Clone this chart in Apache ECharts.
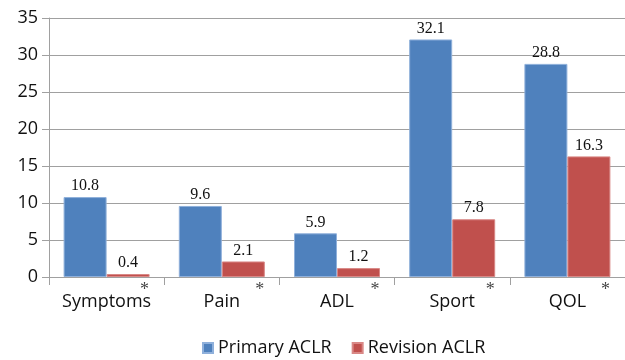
<!DOCTYPE html>
<html>
<head>
<meta charset="utf-8">
<style>
  html, body { margin: 0; padding: 0; background: #fff; }
  #chart { width: 625px; height: 360px; }
</style>
<script src="https://cdn.jsdelivr.net/npm/echarts@6/dist/echarts.min.js"></script>
</head>
<body>
<div id="chart"></div>
<script>
// KOOS subscale differences by group
const categories = ['Symptoms', 'Pain', 'ADL', 'Sport', 'QOL'];
const primaryACLR = [10.8, 9.6, 5.9, 32.1, 28.8];
const revisionACLR = [0.4, 2.1, 1.2, 7.8, 16.3];
// categories flagged as significant (asterisk under the group)
const significant = ['Symptoms', 'Pain', 'ADL', 'Sport', 'QOL'];
const yTicks = { min: 0, max: 35, interval: 5 };

const sansFont = '"Open Sans", "Noto Sans", sans-serif';
const serifFont = '"Liberation Serif", "DejaVu Serif", serif';
const gridGray = '#a0a0a0';

const chart = echarts.init(document.getElementById('chart'));

const valueLabel = {
  show: true,
  position: 'top',
  distance: 3,
  fontFamily: serifFont,
  fontSize: 16,
  color: '#111'
};

chart.setOption({
  animation: false,
  grid: { left: 49, right: 0, top: 18, bottom: 83 },
  legend: {
    data: ['Primary ACLR', 'Revision ACLR'],
    left: 197,
    top: 334,
    icon: 'rect',
    itemWidth: 10,
    itemHeight: 10,
    itemGap: 20,
    textStyle: { fontFamily: sansFont, fontSize: 18, color: '#111' }
  },
  xAxis: {
    type: 'category',
    data: categories,
    axisLine: { lineStyle: { color: gridGray, width: 1 } },
    axisTick: { show: true, length: 8, lineStyle: { color: gridGray } },
    axisLabel: { interval: 0, margin: 16, fontFamily: sansFont, fontSize: 18, color: '#111' }
  },
  yAxis: {
    type: 'value',
    min: yTicks.min,
    max: yTicks.max,
    interval: yTicks.interval,
    axisLine: { show: true, lineStyle: { color: gridGray, width: 1 } },
    axisTick: { show: true, length: 7, lineStyle: { color: gridGray } },
    axisLabel: { margin: 11, fontFamily: sansFont, fontSize: 18, color: '#111' },
    splitLine: { lineStyle: { color: gridGray, width: 1 } }
  },
  series: [
    {
      name: 'Primary ACLR',
      type: 'bar',
      data: primaryACLR,
      barWidth: 43,
      barGap: '0%',
      itemStyle: { color: '#4f81bd', borderColor: '#8fb0db', borderWidth: 1 },
      label: valueLabel
    },
    {
      name: 'Revision ACLR',
      type: 'bar',
      data: revisionACLR,
      barWidth: 43,
      barGap: '0%',
      itemStyle: { color: '#c0504d', borderColor: '#d98886', borderWidth: 1 },
      label: valueLabel
    },
    {
      name: 'significance',
      type: 'scatter',
      data: significant.map(c => [c, 0]),
      symbolSize: 2,
      clip: false,
      itemStyle: { color: 'rgba(0,0,0,0)' },
      silent: true,
      z: 5,
      labelLayout: { hideOverlap: false },
      label: {
        show: true,
        formatter: '*',
        position: [39, 14],
        align: 'center',
        verticalAlign: 'middle',
        fontFamily: serifFont,
        fontSize: 18,
        color: '#111'
      }
    }
  ]
});
</script>
</body>
</html>
